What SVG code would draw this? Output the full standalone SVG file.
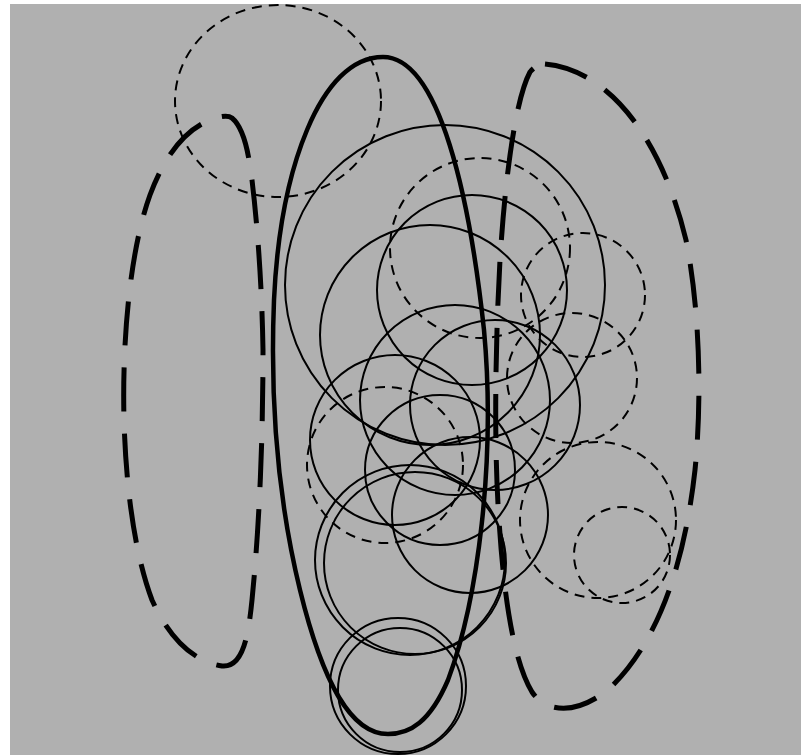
<svg xmlns="http://www.w3.org/2000/svg" width="801" height="755" viewBox="0 0 801 755">
<style>
.bg{fill:#b0b0b0}
.s{fill:none;stroke:#000;stroke-width:2}
.d{fill:none;stroke:#000;stroke-width:2;stroke-dasharray:10 7}
.tk{fill:none;stroke:#000;stroke-width:5;stroke-dasharray:44 22;stroke-linecap:butt}
.big{fill:none;stroke:#000;stroke-width:4.5}
</style>
<rect x="0" y="0" width="801" height="755" fill="#fff"/>
<rect class="bg" x="10" y="4" width="791" height="751"/>
<g id="shapes">
<ellipse class="d" cx="278" cy="101" rx="103" ry="96"/>
<path class="tk" d="M232,118 C244,128 248,150 252,180 C258,230 262,290 263,350 C263,430 260,520 252,600 C248,640 242,668 222,666 C195,662 170,640 152,600 C135,555 126,490 124,420 C122,340 130,250 150,195 C165,155 185,130 210,120 C220,116 228,115 232,118 Z"/>
<path class="tk" d="M545,64 C610,70 662,140 686,240 C700,310 702,400 695,470 C685,560 660,640 610,688 C582,712 548,716 532,692 C514,662 504,600 499,520 C494,450 495,350 500,260 C505,180 515,100 530,72 C535,66 540,64 545,64 Z"/>
<path class="big" d="M383,57 C440,57 470,200 484,330 C496,460 478,600 448,680 C430,722 410,734 388,734 C350,734 322,680 300,590 C278,500 270,400 274,300 C280,170 320,57 383,57 Z"/>
<circle class="s" cx="445" cy="285" r="160"/>
<circle class="s" cx="472" cy="290" r="95"/>
<circle class="s" cx="430" cy="335" r="110"/>
<circle class="s" cx="455" cy="400" r="95"/>
<circle class="s" cx="395" cy="440" r="85"/>
<circle class="s" cx="495" cy="405" r="85"/>
<circle class="s" cx="470" cy="515" r="78"/>
<circle class="s" cx="440" cy="470" r="75"/>
<circle class="s" cx="410" cy="560" r="95"/>
<circle class="s" cx="415" cy="563" r="91"/>
<circle class="s" cx="398" cy="686" r="68"/>
<circle class="s" cx="400" cy="690" r="62"/>
<circle class="d" cx="480" cy="248" r="90"/>
<circle class="d" cx="583" cy="295" r="62"/>
<circle class="d" cx="572" cy="378" r="65"/>
<circle class="d" cx="598" cy="520" r="78"/>
<circle class="d" cx="622" cy="555" r="48"/>
<circle class="d" cx="385" cy="465" r="78"/>
</g>
</svg>
